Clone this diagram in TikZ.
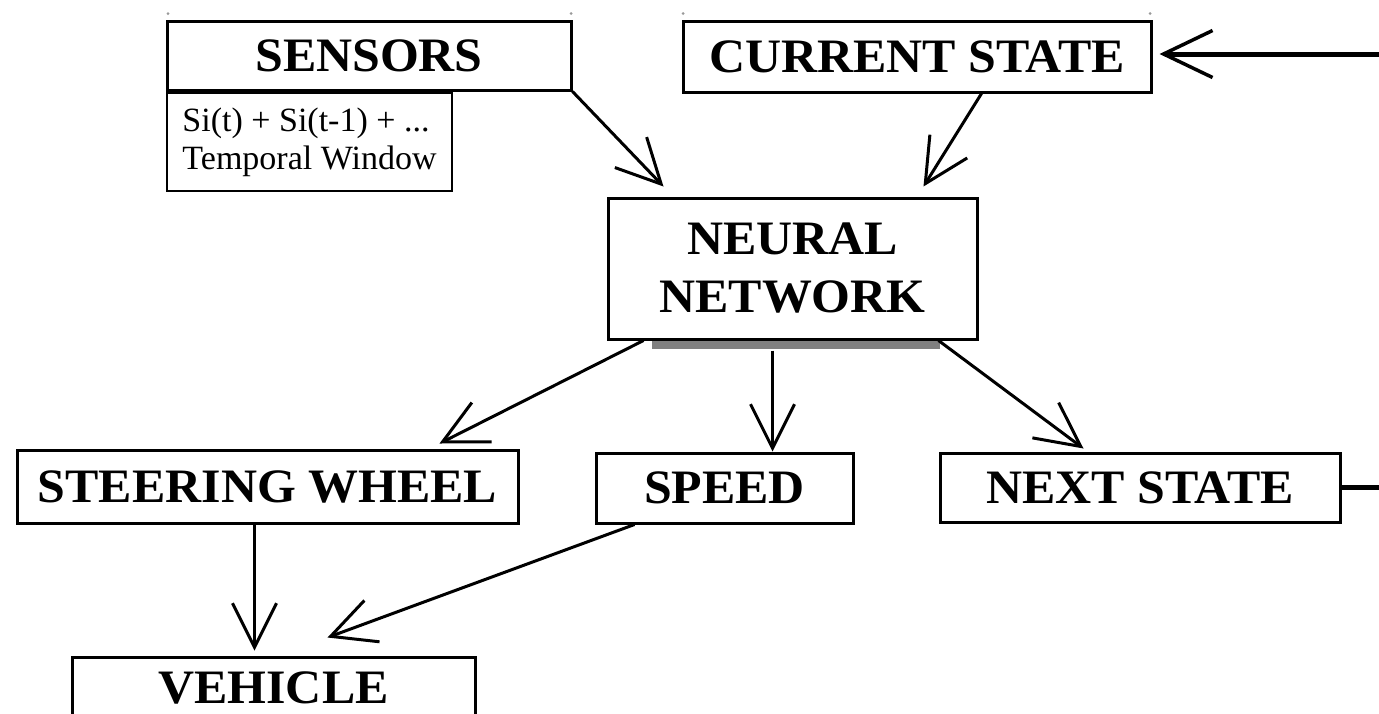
\documentclass[tikz,border=0pt]{standalone}
\usepackage{fontspec}
\setmainfont{Liberation Serif}
\newfontfamily\boxfont{Liberation Serif}[FakeStretch=1.04]
\usetikzlibrary{arrows.meta,calc}
\begin{document}
\begin{tikzpicture}[x=1pt,y=-1pt,
  box/.style={draw,line width=3pt,inner sep=0pt,fill=white,
    font=\boxfont\fontsize{48}{58}\selectfont\bfseries,align=center},
  note/.style={draw,line width=2pt,inner sep=0pt,fill=white,
    font=\fontsize{34}{38}\selectfont,align=left},
  arr/.style={line width=3pt,-{Straight Barb[length=44pt,width=44pt]}},
  feed/.style={line width=5pt,-{Straight Barb[length=49pt,width=47pt,line width=3.5pt]}},
  handle/.style={fill=black!40},
  shadowbar/.style={fill=black!50}]
\useasboundingbox (0,0) rectangle (1379,713);
\clip (0,0) rectangle (1379,713);
\fill[white] (0,0) rectangle (1379,713);

% small handle marks
\foreach \hx in {168,571,683,1150} \fill[handle] (\hx,13.5) circle (1.5);

% shadow under the neural network box
\fill[shadowbar] (652,339) rectangle (940,349);

\node[box,minimum width=404,minimum height=69] (sensors) at (369,55.5) {SENSORS};
\node[note,minimum width=285,minimum height=98] (window) at (309.5,142)
  {Si(t) + Si(t-1) + ...\\Temporal Window};
\node[box,minimum width=468,minimum height=71] (current) at (917,56.5) {CURRENT STATE};
\node[box,minimum width=369,minimum height=141] (nn) at (792.5,268.5) {NEURAL\\NETWORK};
\node[box,minimum width=501,minimum height=73] (steer) at (267.5,486.5) {STEERING WHEEL};
\node[box,minimum width=257,minimum height=70] (speed) at (724.5,488) {SPEED};
\node[box,minimum width=400,minimum height=69] (next) at (1140,487.5) {NEXT STATE};
\node[box,minimum width=403,minimum height=62] (vehicle) at (273.5,688) {VEHICLE};

% connectors
\draw[arr] (sensors.south east) -- ([shift={(57,-10)}]nn.north west);
\draw[arr] ([shift={(300,0)}]current.south west) -- ([shift={(-55,-10)}]nn.north east);
\draw[arr] ([shift={(37,0)}]nn.south west) -- ([shift={(-80,-5)}]steer.north east);
\coordinate (nnout) at ([shift={(-20,10)}]nn.south);
\draw[arr] (nnout) -- (nnout |- speed.north);
\draw[arr] ([shift={(-40,0)}]nn.south east) -- ([shift={(145,-3)}]next.north west);
\coordinate (stout) at ([shift={(-13,0)}]steer.south);
\draw[arr] (stout) -- ([shift={(0,-5)}]stout |- vehicle.north);
\draw[arr] ([shift={(40,0)}]speed.south west) -- ([shift={(257,-18)}]vehicle.north west);

% feedback loop
\coordinate (fb1) at (1386,487.5);
\coordinate (fb2) at (1386,54);
\draw[feed] (next.east) -- (fb1) -- (fb2) -- ([xshift=7pt]fb2 -| current.east);
\end{tikzpicture}
\end{document}
